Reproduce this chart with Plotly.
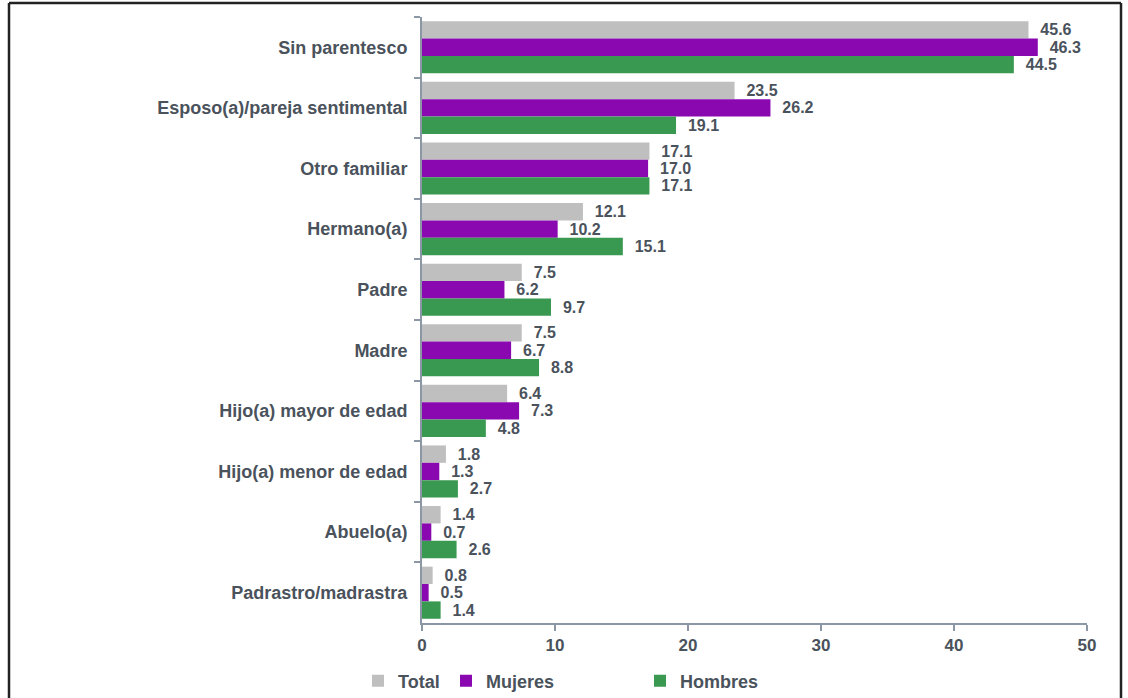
import plotly.graph_objects as go

categories = ["Sin parentesco", "Esposo(a)/pareja sentimental", "Otro familiar", "Hermano(a)",
              "Padre", "Madre", "Hijo(a) mayor de edad", "Hijo(a) menor de edad",
              "Abuelo(a)", "Padrastro/madrastra"]
total = [45.6, 23.5, 17.1, 12.1, 7.5, 7.5, 6.4, 1.8, 1.4, 0.8]
mujeres = [46.3, 26.2, 17.0, 10.2, 6.2, 6.7, 7.3, 1.3, 0.7, 0.5]
hombres = [44.5, 19.1, 17.1, 15.1, 9.7, 8.8, 4.8, 2.7, 2.6, 1.4]

series = [("Total", total, "#BFBFBF"), ("Mujeres", mujeres, "#8A08B0"), ("Hombres", hombres, "#3A9950")]

txt_color = "#4A525C"
font_family = "Liberation Sans, Arial, sans-serif"

W, H = 1128, 698
DL, DR, DT, DB = 422, 1087, 17, 623
L, T = DL, DT
R = W - DR
B = H - DB
pw, ph = W - L - R, H - T - B

def px(x):
    return (x - L) / pw

def py(y):
    return (H - B - y) / ph

legend_x = [358, 446, 640]
LEG_Y = 681

fig = go.Figure()
for i, (name, vals, col) in enumerate(series):
    fig.add_trace(go.Bar(
        y=categories, x=vals, name=name, orientation="h",
        marker=dict(color=col, line=dict(width=0)),
        text=["\u00a0\u00a0" + f"{v:.1f}" for v in vals], textposition="outside",
        constraintext="none",
        textfont=dict(size=16, color=txt_color, family=font_family, weight="bold"),
        cliponaxis=False,
        legend="legend" if i == 0 else f"legend{i+1}",
    ))

leg_common = dict(orientation="h", yanchor="middle", xanchor="left",
                  font=dict(size=18, color=txt_color, family=font_family, weight="bold"),
                  itemwidth=30, bgcolor="rgba(0,0,0,0)", borderwidth=0)

frame = dict(color="#222222", width=2.5)
xl, xr, yt, yb = px(9), px(1121), py(3), py(720)

fig.update_layout(
    width=W, height=H,
    margin=dict(l=L, r=R, t=T, b=B, pad=0, autoexpand=False),
    paper_bgcolor="white", plot_bgcolor="white",
    barmode="group", bargap=0.14, bargroupgap=0.0,
    font=dict(family=font_family, color=txt_color, size=18),
    showlegend=True,
    legend=dict(x=px(legend_x[0]), y=py(LEG_Y), **leg_common),
    legend2=dict(x=px(legend_x[1]), y=py(LEG_Y), **leg_common),
    legend3=dict(x=px(legend_x[2]), y=py(LEG_Y), **leg_common),
    xaxis=dict(range=[0, 50], dtick=10, showgrid=False, zeroline=False, automargin=False,
               showline=True, linecolor="#8C97A6", linewidth=2,
               ticks="outside", ticklen=6, tickcolor="#8C97A6", tickwidth=2,
               tickfont=dict(size=17, color=txt_color, family=font_family, weight="bold")),
    yaxis=dict(autorange="reversed", showgrid=False, zeroline=False, automargin=False,
               showline=True, linecolor="#8C97A6", linewidth=2,
               ticks="outside", ticklen=6, tickcolor="#8C97A6", tickwidth=2,
               tickson="boundaries", ticklabelstandoff=9,
               tickfont=dict(size=18, color=txt_color, family=font_family, weight="bold")),
    shapes=[
        dict(type="line", xref="paper", yref="paper", x0=xl, x1=xl, y0=yb, y1=yt, line=frame),
        dict(type="line", xref="paper", yref="paper", x0=xr, x1=xr, y0=yb, y1=yt, line=frame),
        dict(type="line", xref="paper", yref="paper", x0=xl, x1=xr, y0=yt, y1=yt, line=frame),
    ],
)

fig.write_html("out.html", config={"displayModeBar": False},
               post_script="document.body.style.margin='0';document.documentElement.style.overflow='hidden';")
